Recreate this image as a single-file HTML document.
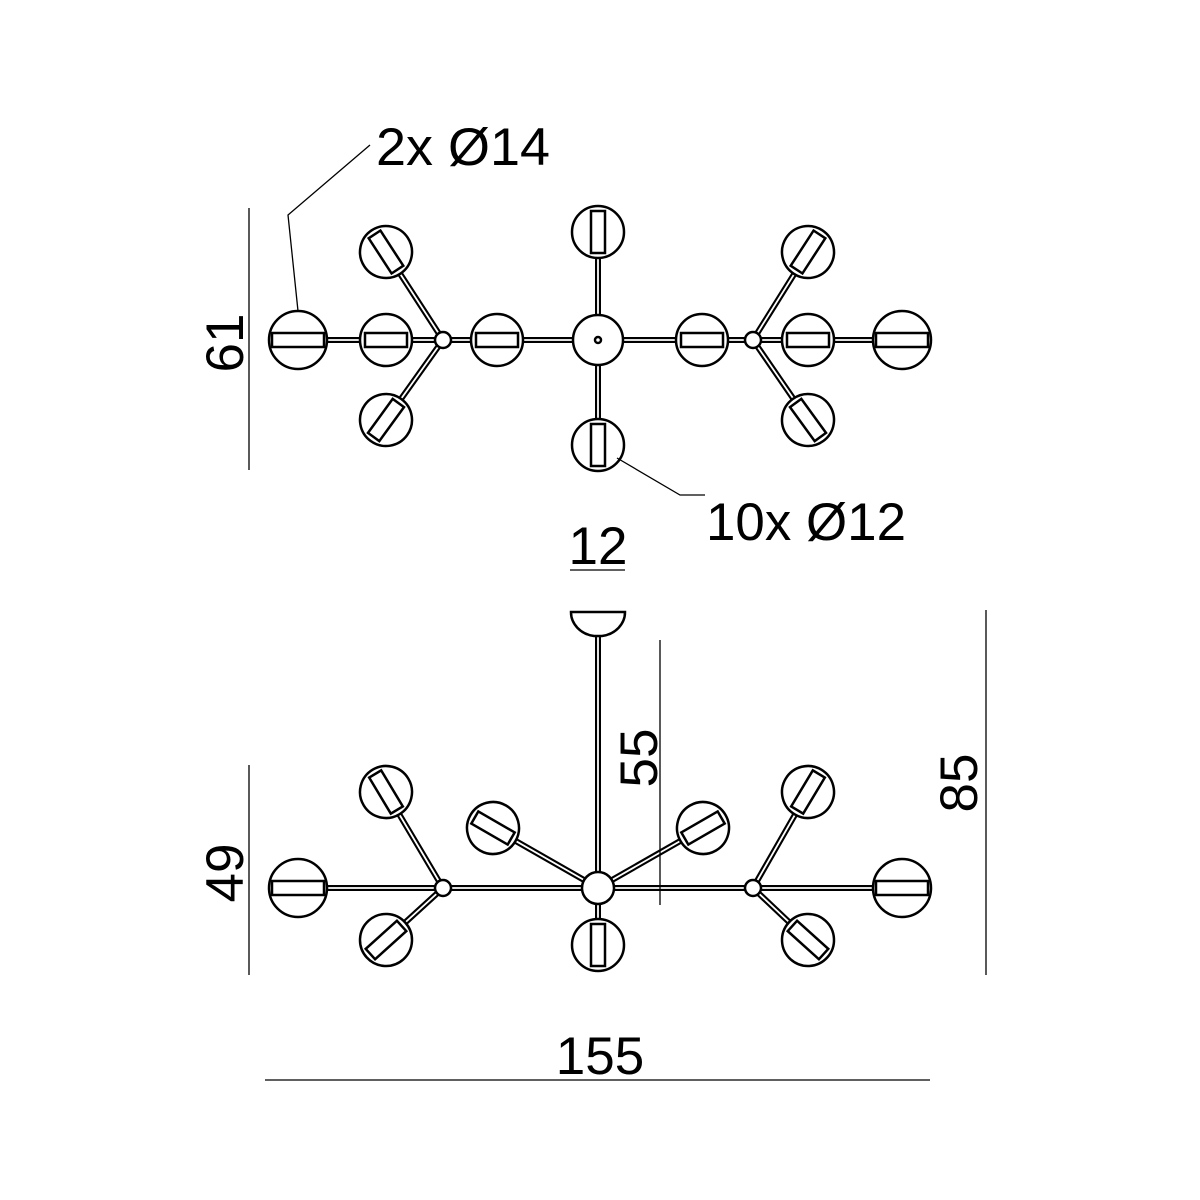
<!DOCTYPE html>
<html><head><meta charset="utf-8"><style>
html,body{margin:0;padding:0;background:#fff}
svg{display:block}
text{font-family:"Liberation Sans",sans-serif;fill:#000}
</style></head><body>
<svg width="1200" height="1200" viewBox="0 0 1200 1200" xmlns="http://www.w3.org/2000/svg">
<defs>
<g id="g12"><circle r="26" fill="#fff" stroke="#000" stroke-width="2.5"/><rect x="-21" y="-7" width="42" height="14" fill="#fff" stroke="#000" stroke-width="2.5"/></g>
<g id="g14"><circle r="29" fill="#fff" stroke="#000" stroke-width="2.5"/><rect x="-26" y="-7" width="52" height="14" fill="#fff" stroke="#000" stroke-width="2.5"/></g>
</defs>
<g fill="none" stroke="#000" stroke-linecap="round">
<g stroke-width="6">
<line x1="298" y1="340" x2="902" y2="340"/>
<line x1="598" y1="232" x2="598" y2="445"/>
<line x1="386" y1="252" x2="443" y2="340"/><line x1="386" y1="420" x2="443" y2="340"/>
<line x1="808" y1="252" x2="753" y2="340"/><line x1="808" y1="420" x2="753" y2="340"/>
</g>
<g stroke="#fff" stroke-width="1.8">
<line x1="298" y1="340" x2="902" y2="340"/>
<line x1="598" y1="232" x2="598" y2="445"/>
<line x1="386" y1="252" x2="443" y2="340"/><line x1="386" y1="420" x2="443" y2="340"/>
<line x1="808" y1="252" x2="753" y2="340"/><line x1="808" y1="420" x2="753" y2="340"/>
</g>
<g stroke-width="6">
<line x1="598" y1="632" x2="598" y2="888"/>
<line x1="298" y1="888" x2="902" y2="888"/>
<line x1="386" y1="792" x2="443" y2="888"/><line x1="386" y1="940" x2="443" y2="888"/>
<line x1="808" y1="792" x2="753" y2="888"/><line x1="808" y1="940" x2="753" y2="888"/>
<line x1="493" y1="828" x2="598" y2="888"/><line x1="703" y1="828" x2="598" y2="888"/>
<line x1="598" y1="888" x2="598" y2="945"/>
</g>
<g stroke="#fff" stroke-width="1.8">
<line x1="598" y1="632" x2="598" y2="888"/>
<line x1="298" y1="888" x2="902" y2="888"/>
<line x1="386" y1="792" x2="443" y2="888"/><line x1="386" y1="940" x2="443" y2="888"/>
<line x1="808" y1="792" x2="753" y2="888"/><line x1="808" y1="940" x2="753" y2="888"/>
<line x1="493" y1="828" x2="598" y2="888"/><line x1="703" y1="828" x2="598" y2="888"/>
<line x1="598" y1="888" x2="598" y2="945"/>
</g>
</g>
<g fill="#fff" stroke="#000" stroke-width="2.5">
<circle cx="598" cy="340" r="25"/><circle cx="598" cy="340" r="3"/>
<circle cx="443" cy="340" r="8"/><circle cx="753" cy="340" r="8"/>
<circle cx="598" cy="888" r="16"/><circle cx="443" cy="888" r="8"/><circle cx="753" cy="888" r="8"/>
<path d="M571,612 L625,612 A27,24 0 0 1 602,636 L594,636 A27,24 0 0 1 571,612 Z"/>
</g>
<use href="#g14" transform="translate(298,340)"/>
<use href="#g14" transform="translate(902,340) rotate(180)"/>
<use href="#g12" transform="translate(386,252) rotate(57)"/>
<use href="#g12" transform="translate(386,420) rotate(-54)"/>
<use href="#g12" transform="translate(386,340)"/>
<use href="#g12" transform="translate(497,340)"/>
<use href="#g12" transform="translate(598,232) rotate(90)"/>
<use href="#g12" transform="translate(598,445) rotate(-90)"/>
<use href="#g12" transform="translate(702,340) rotate(180)"/>
<use href="#g12" transform="translate(808,252) rotate(123)"/>
<use href="#g12" transform="translate(808,340) rotate(180)"/>
<use href="#g12" transform="translate(808,420) rotate(-126)"/>
<use href="#g14" transform="translate(298,888)"/>
<use href="#g14" transform="translate(902,888) rotate(180)"/>
<use href="#g12" transform="translate(386,792) rotate(59)"/>
<use href="#g12" transform="translate(386,940) rotate(-42)"/>
<use href="#g12" transform="translate(493,828) rotate(30)"/>
<use href="#g12" transform="translate(598,945) rotate(-90)"/>
<use href="#g12" transform="translate(703,828) rotate(150)"/>
<use href="#g12" transform="translate(808,792) rotate(121)"/>
<use href="#g12" transform="translate(808,940) rotate(-138)"/>
<g stroke="#000" stroke-width="1.3" fill="none">
<line x1="249" y1="208" x2="249" y2="470"/>
<line x1="249" y1="765" x2="249" y2="975"/>
<line x1="660" y1="640" x2="660" y2="905"/>
<line x1="986" y1="610" x2="986" y2="975"/>
<line x1="265" y1="1080" x2="930" y2="1080"/>
<line x1="570" y1="570" x2="625" y2="570"/>
<polyline points="298,311 288,215 370,145"/>
<polyline points="617,458 680,495 705,495"/>
</g>
<g font-size="53">
<text x="376" y="165" textLength="174" lengthAdjust="spacingAndGlyphs">2x Ø14</text>
<text x="706" y="540" textLength="200" lengthAdjust="spacingAndGlyphs">10x Ø12</text>
<text x="598" y="564" text-anchor="middle">12</text>
<text x="600" y="1074" text-anchor="middle">155</text>
<text transform="translate(243,343) rotate(-90)" text-anchor="middle">61</text>
<text transform="translate(243,873) rotate(-90)" text-anchor="middle">49</text>
<text transform="translate(657,758) rotate(-90)" text-anchor="middle">55</text>
<text transform="translate(977,783) rotate(-90)" text-anchor="middle">85</text>
</g>
</svg>
</body></html>
